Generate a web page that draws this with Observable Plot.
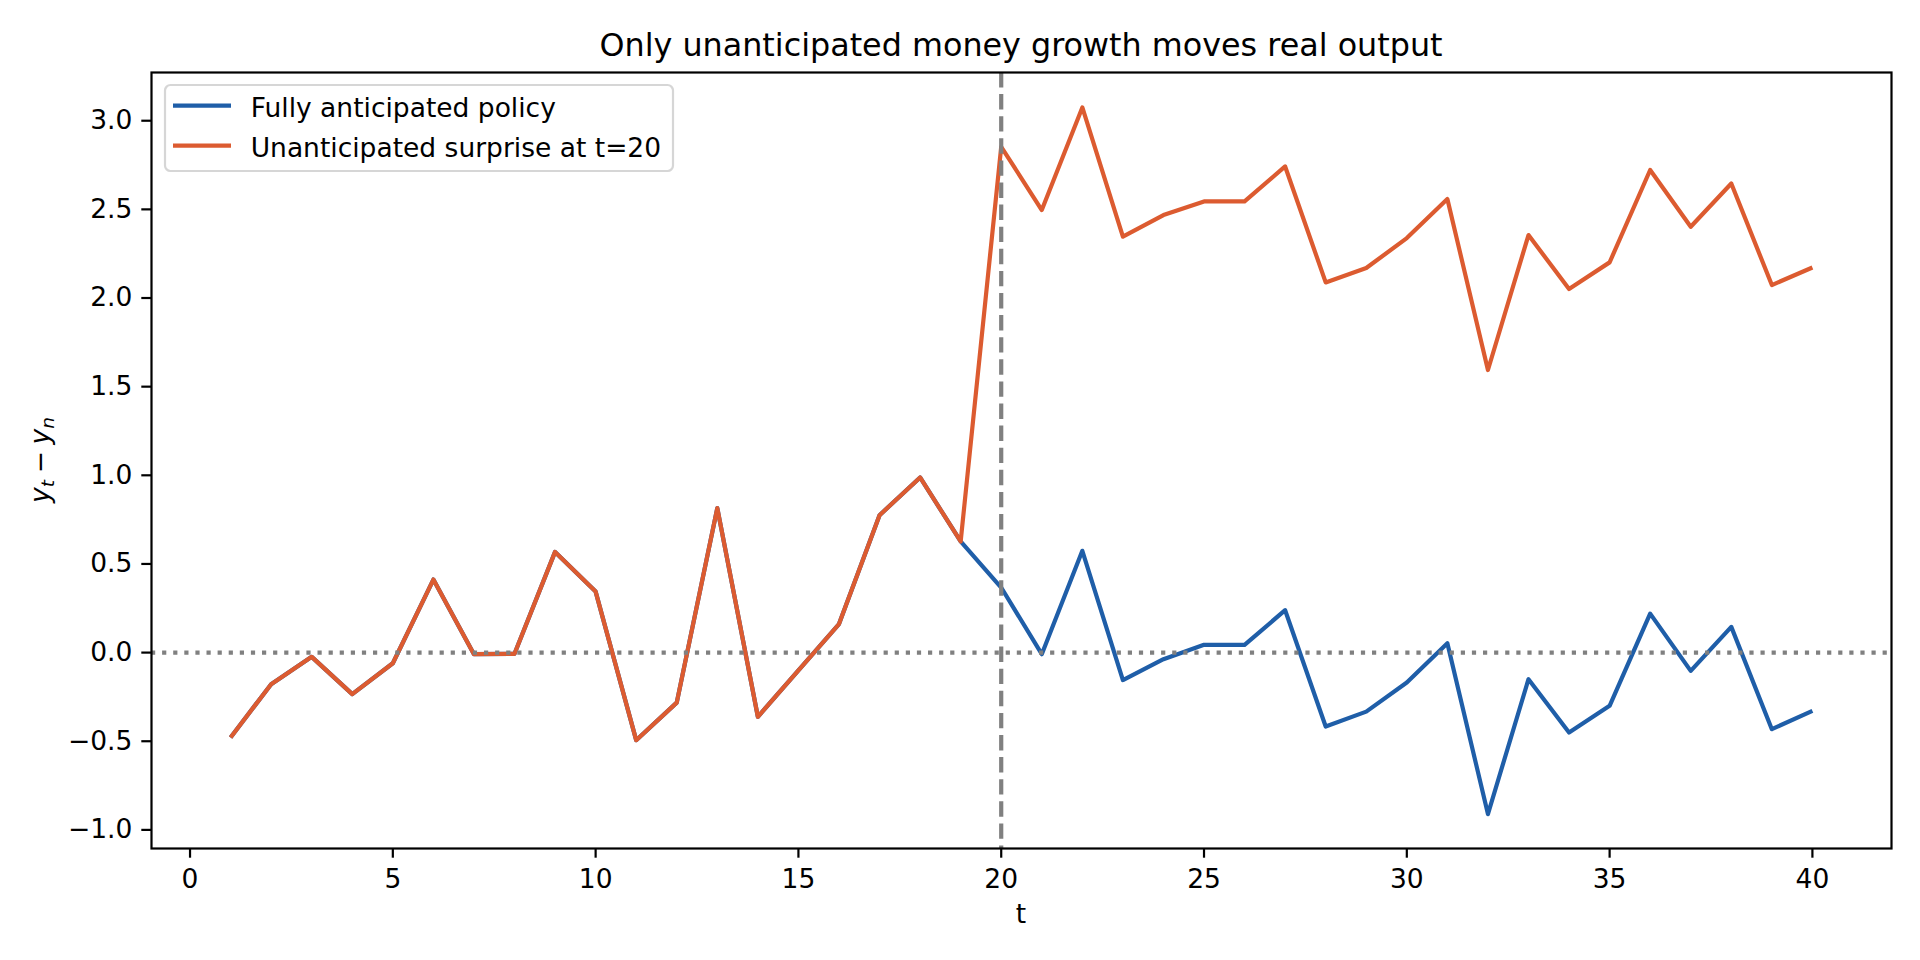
<!DOCTYPE html>
<html>
<head>
<meta charset="utf-8">
<script src="https://cdn.jsdelivr.net/npm/d3@7"></script>
<script src="https://cdn.jsdelivr.net/npm/@observablehq/plot@0.6"></script>
<style>
  html, body { margin: 0; padding: 0; background: #ffffff; overflow: hidden; }
  #chart { width: 1920px; height: 960px; }
  svg { font-family: "DejaVu Sans", sans-serif; }
</style>
</head>
<body>
<div id="chart"></div>
<script>
// ---- data ----
const t = [1,2,3,4,5,6,7,8,9,10,11,12,13,14,15,16,17,18,19,20,21,22,23,24,25,26,27,28,29,30,31,32,33,34,35,36,37,38,39,40];

const anticipated = [
  -0.479, -0.178, -0.024, -0.234, -0.060, 0.412, -0.009, -0.007, 0.568, 0.344,
  -0.494, -0.282, 0.815, -0.362, -0.100, 0.161, 0.775, 0.988, 0.627, 0.367,
  -0.009, 0.574, -0.155, -0.037, 0.044, 0.044, 0.239, -0.417, -0.333, -0.169,
  0.053, -0.911, -0.150, -0.451, -0.300, 0.220, -0.103, 0.145, -0.432, -0.329
];

const surprise = [
  -0.479, -0.178, -0.024, -0.234, -0.060, 0.412, -0.009, -0.007, 0.568, 0.344,
  -0.494, -0.282, 0.815, -0.362, -0.100, 0.161, 0.775, 0.988, 0.627, 2.853,
  2.496, 3.075, 2.346, 2.468, 2.545, 2.545, 2.742, 2.088, 2.169, 2.338,
  2.558, 1.594, 2.355, 2.051, 2.201, 2.722, 2.402, 2.646, 2.073, 2.172
];

const seriesNames = ["Fully anticipated policy", "Unanticipated surprise at t=20"];
const seriesColors = ["#1f5ea8", "#dc5b30"];

const xTicks = [0, 5, 10, 15, 20, 25, 30, 35, 40];
const yTicks = [-1.0, -0.5, 0.0, 0.5, 1.0, 1.5, 2.0, 2.5, 3.0];
const shockTime = [20];
const zeroLine = [0];

const titleText = "Only unanticipated money growth moves real output";
const xLabelText = "t";

// ---- build tables ----
const rowsA = t.map((d, i) => ({t: d, v: anticipated[i]}));
const rowsS = t.map((d, i) => ({t: d, v: surprise[i]}));

const W = 1920, H = 960;
const mL = 151, mR = 29, mT = 72, mB = 112;
const FS = 26.5;

const chart = Plot.plot({
  width: W,
  height: H,
  marginLeft: mL,
  marginRight: mR,
  marginTop: mT,
  marginBottom: mB,
  style: {fontFamily: "DejaVu Sans", fontSize: FS + "px", background: "white", color: "black", overflow: "visible"},
  x: {domain: [-0.95, 41.95]},
  y: {domain: [-1.105, 3.272]},
  marks: [
    Plot.line(rowsA, {x: "t", y: "v", stroke: seriesColors[0], strokeWidth: 4.2, strokeLinejoin: "round", strokeLinecap: "butt"}),
    Plot.line(rowsS, {x: "t", y: "v", stroke: seriesColors[1], strokeWidth: 4.2, strokeLinejoin: "round", strokeLinecap: "butt"}),
    Plot.ruleY(zeroLine, {stroke: "#808080", strokeWidth: 4.2, strokeDasharray: "4.2,6.9"}),
    Plot.ruleX(shockTime, {stroke: "#808080", strokeWidth: 4.2, strokeDasharray: "15.4,6.7"}),
    Plot.frame({stroke: "black", strokeWidth: 2.2}),
    Plot.axisX({ticks: xTicks, tickSize: 9.7, tickPadding: 11, strokeWidth: 2.2, label: null, tickFormat: d => String(d), fill: "black", stroke: "black"}),
    Plot.axisY({ticks: yTicks, tickSize: 9.7, tickPadding: 9.5, strokeWidth: 2.2, label: null, tickFormat: d3.format(".1f"), fill: "black", stroke: "black"})
  ]
});

document.getElementById("chart").appendChild(chart);

const svg = d3.select(chart);
const cx = mL + (W - mL - mR) / 2;

// title
svg.append("text")
  .attr("x", cx).attr("y", 56)
  .attr("text-anchor", "middle")
  .attr("font-family", "DejaVu Sans")
  .attr("font-size", 31.8)
  .attr("fill", "black")
  .text(titleText);

// x label
svg.append("text")
  .attr("x", cx).attr("y", 923)
  .attr("text-anchor", "middle")
  .attr("font-family", "DejaVu Sans")
  .attr("font-size", FS)
  .attr("fill", "black")
  .text(xLabelText);

// y label  y_t − y_n
const yl = svg.append("text")
  .attr("transform", `translate(49, ${mT + (H - mT - mB) / 2}) rotate(-90)`)
  .attr("text-anchor", "middle")
  .attr("font-family", "DejaVu Sans")
  .attr("font-size", FS)
  .attr("fill", "black");
yl.append("tspan").attr("font-style", "italic").text("y");
yl.append("tspan").attr("font-style", "italic").attr("font-size", 18.5).attr("dy", 5).text("t");
yl.append("tspan").attr("dy", -5).text("\u2005\u2212\u2005");
yl.append("tspan").attr("font-style", "italic").text("y");
yl.append("tspan").attr("font-style", "italic").attr("font-size", 18.5).attr("dy", 5).text("n");

// legend
const lg = svg.append("g").attr("text-anchor", "start");
lg.append("rect")
  .attr("x", 165).attr("y", 85).attr("width", 508).attr("height", 86)
  .attr("rx", 5.5).attr("ry", 5.5)
  .attr("fill", "white").attr("fill-opacity", 0.8)
  .attr("stroke", "#d6d6d6").attr("stroke-width", 2.2);
seriesNames.forEach((name, i) => {
  const ly = 105.7 + i * 40;
  lg.append("line")
    .attr("x1", 173).attr("x2", 231).attr("y1", ly).attr("y2", ly)
    .attr("stroke", seriesColors[i]).attr("stroke-width", 4.2);
  lg.append("text")
    .attr("x", 250.7).attr("y", ly + 10.8)
    .attr("text-anchor", "start")
    .attr("font-family", "DejaVu Sans")
    .attr("font-size", FS)
    .attr("fill", "black")
    .text(name);
});
</script>
</body>
</html>
